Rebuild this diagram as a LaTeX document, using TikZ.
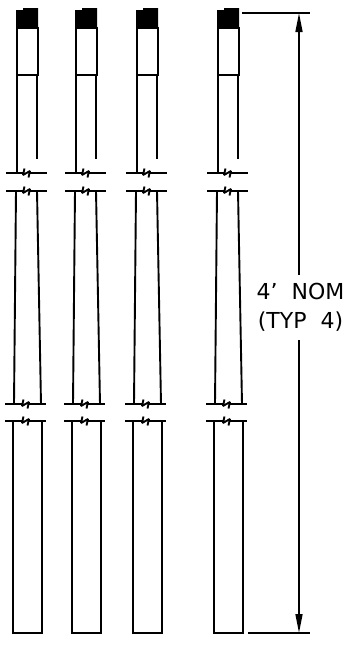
\documentclass[tikz,border=0pt]{standalone}
\usepackage{fontspec}
\setmainfont{DejaVu Sans}
\usetikzlibrary{positioning,arrows.meta}
\tikzset{
  every node/.style={
    inner sep=0pt
  },
  postline/.style={
    line width=1.9pt,
    line cap=butt,
    line join=miter
  },
  dimline/.style={
    line width=1.6pt
  },
  dimtext/.style={
    font=\fontsize{22}{30}\selectfont,
    align=center
  }
}
\newcommand{\breakline}[2]{% centre x, y
  \draw[postline] (#1-20.5,#2) -- (#1-3,#2);
  \draw[postline] (#1+3,#2) -- (#1+20.5,#2);
  \draw[postline, line join=bevel] (#1-2,#2-4.5) -- (#1-3.5,#2+2)
    -- (#1+3.5,#2-2) -- (#1+2,#2+4.5);
}
\begin{document}
\begin{tikzpicture}[x=1pt,y=-1pt]
  \useasboundingbox (0,0) rectangle (359,645);
  % the four posts
  \foreach \px in {0,59,120,201} {
    \begin{scope}[xshift=\px pt]
      % cap and top box
      \fill[black] (16,10) -- (23,10) -- (23,8) -- (38,8) -- (38,28) -- (16,28) -- cycle;
      \draw[postline] (17,28) rectangle (38,75);
      % upper tube
      \draw[postline] (17,75) -- (17,173);
      \draw[postline] (37,75) -- (37,159);
      \breakline{26.5}{173}
      \breakline{26.5}{191}
      % tapered part
      \draw[postline] (16,191) -- (14,404);
      \draw[postline] (37,191) -- (41,404);
      \breakline{25.5}{404}
      \breakline{25.5}{421}
      % lower tube
      \draw[postline] (13,421) -- (13,633) -- (42,633) -- (42,421);
    \end{scope}
  }
  % dimension
  \coordinate (DimTopL) at (242,13);
  \coordinate (DimTopR) at (310,13);
  \coordinate (DimBotL) at (248,633);
  \coordinate (DimBotR) at (310,633);
  \coordinate (ArrowTop) at (299,13);
  \coordinate (ArrowBot) at (299,633);
  \draw[dimline] (DimTopL) -- (DimTopR);
  \draw[dimline] (DimBotL) -- (DimBotR);
  \node[dimtext] (NomLabel) at (300.5,291) {4'\ \ NOM};
  \node[dimtext, below=12pt of NomLabel.south] (TypLabel) {(TYP\ \ 4)};
  \draw[dimline, {Triangle[length=19pt,width=7pt]}-] (ArrowTop) -- ++(0,262);
  \draw[dimline, {Triangle[length=19pt,width=7pt]}-] (ArrowBot) -- ++(0,-293);
\end{tikzpicture}
\end{document}
